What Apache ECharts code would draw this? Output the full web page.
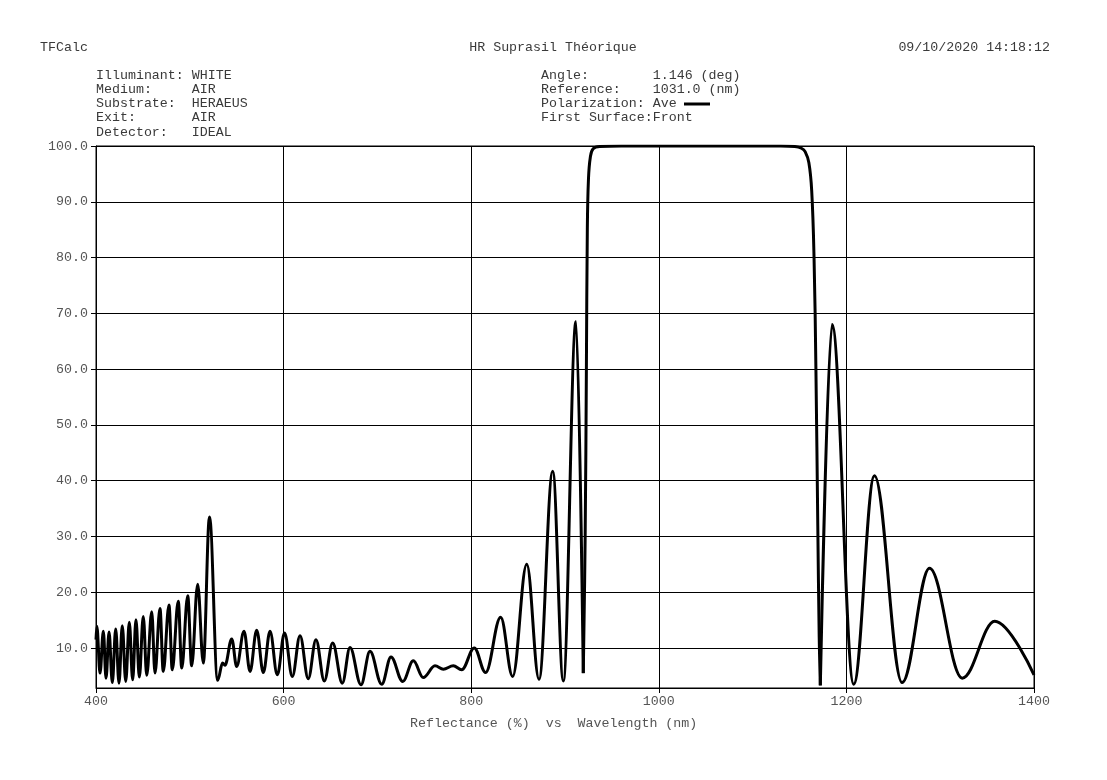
<!DOCTYPE html>
<html>
<head>
<meta charset="utf-8">
<script src="https://cdn.jsdelivr.net/npm/echarts@6/dist/echarts.min.js"></script>
<style>
html,body{margin:0;padding:0;background:#fff;}
#chart{width:1107px;height:780px;}
</style>
</head>
<body>
<div id="chart"></div>
<script>
// Wavelength (nm) and reflectance (%)
var wavelength = [400, 400.9, 404.3, 407.8, 410.7, 413.9, 417.4, 421.0, 424.5, 428.0, 431.7, 435.5, 439.1, 442.6, 446.2, 450.4, 454.1, 459.4, 462.9, 468.2, 471.7, 477.8, 481.3, 487.7, 491.4, 497.8, 502.0, 508.4, 514.4, 521.0, 529.7, 534.9, 537.5, 544.7, 550.0, 557.8, 564.2, 571.3, 578.4, 585.5, 593.3, 601.0, 609.3, 617.5, 626.3, 634.5, 643.4, 652.3, 662.6, 670.8, 682.5, 692.1, 704.6, 714.5, 727.0, 738.3, 748.9, 761.4, 770.3, 780.9, 789.9, 803.3, 815.3, 831.4, 844.2, 859.2, 872.3, 886.9, 898.2, 911.7, 919.5, 921.5, 922.8, 923.8, 925, 927, 930, 937, 960, 1050, 1130, 1145, 1152, 1156, 1160, 1163, 1165.5, 1167.5, 1169.5, 1171, 1172.2, 1184.7, 1207.8, 1229.9, 1259.4, 1288.6, 1323.5, 1358.2, 1400];
var reflectance = [11.5, 13.9, 5.5, 13.0, 4.6, 12.85, 3.8, 13.4, 3.7, 14.0, 4.0, 14.6, 4.3, 15.05, 4.8, 15.65, 5.1, 16.5, 5.5, 17.1, 5.8, 17.7, 6.1, 18.4, 6.4, 19.35, 6.8, 21.45, 7.3, 33.5, 4.2, 7.3, 6.9, 11.6, 6.7, 13.0, 5.8, 13.2, 5.6, 13.0, 5.2, 12.7, 4.9, 12.2, 4.5, 11.5, 4.1, 10.9, 3.7, 10.1, 3.4, 9.4, 3.5, 8.4, 4.0, 7.7, 4.7, 6.8, 6.2, 6.8, 6.1, 10.0, 5.6, 15.5, 4.9, 25.0, 4.4, 41.7, 4.1, 68.5, 5.5, 30, 60, 85, 94, 98, 99.5, 99.9, 100, 100, 100, 99.9, 99.6, 99.0, 97, 92, 80, 60, 32, 12, 3.3, 68.0, 3.5, 40.9, 3.8, 24.3, 4.6, 14.8, 5.2];

// stop band edges (wavelengths where the curve reaches the trough on either side of the plateau)
var bandStart = 919.5;
var bandEnd = 1172.2;

var xTicks = {min: 400, max: 1400, step: 200};
var yTicks = {min: 2.83, max: 100, step: 10};

var headerLeft = ["Illuminant: WHITE", "Medium:     AIR", "Substrate:  HERAEUS", "Exit:       AIR", "Detector:   IDEAL"];
var headerRight = ["Angle:        1.146 (deg)", "Reference:    1031.0 (nm)", "Polarization: Ave", "First Surface:Front"];
var titleText = "HR Suprasil Théorique";
var appText = "TFCalc";
var dateText = "09/10/2020 14:18:12";
var axisTitle = "Reflectance (%)  vs  Wavelength (nm)";

var FONT = '"Liberation Mono", "DejaVu Sans Mono", monospace';
var FS = 13.3;
var TXT = '#3a3a3a';
var LBL = '#555';

var all = wavelength.map(function (w, i) { return [w, reflectance[i]]; });
var partA = all.filter(function (p) { return p[0] <= bandStart; });
var partB = all.filter(function (p) { return p[0] >= bandStart && p[0] <= bandEnd; });
var partC = all.filter(function (p) { return p[0] >= bandEnd; });

function txt(x, y, s, align) {
  return {type: 'text', x: x, y: y, silent: true,
    style: {text: s, fontFamily: FONT, fontSize: FS, fill: TXT, align: align || 'left', verticalAlign: 'middle'}};
}
var graphics = [];
graphics.push(txt(40, 47, appText));
graphics.push(txt(553, 47, titleText, 'center'));
graphics.push(txt(1050, 47, dateText, 'right'));
headerLeft.forEach(function (s, i) { graphics.push(txt(96, 75 + i * 14.25, s)); });
headerRight.forEach(function (s, i) { graphics.push(txt(541, 75 + i * 14.25, s)); });
graphics.push({type: 'line', silent: true, shape: {x1: 684, y1: 104, x2: 710, y2: 104}, style: {stroke: '#000', lineWidth: 3}});
graphics.push({type: 'text', x: 410, y: 723, silent: true,
  style: {text: axisTitle, fontFamily: FONT, fontSize: FS, fill: LBL, align: 'left', verticalAlign: 'middle'}});

var lineStyle = {color: '#000', width: 3};
var chart = echarts.init(document.getElementById('chart'), null, {renderer: 'canvas'});
chart.setOption({
  animation: false,
  backgroundColor: '#fff',
  grid: {left: 96, right: 73, top: 146, bottom: 92, show: true, borderColor: '#000', borderWidth: 1},
  xAxis: {
    type: 'value', min: xTicks.min, max: xTicks.max, interval: xTicks.step,
    axisLine: {show: true, lineStyle: {color: '#000', width: 1}},
    axisTick: {show: true, length: 5, lineStyle: {color: '#000'}},
    axisLabel: {color: LBL, fontFamily: FONT, fontSize: FS, margin: 7, formatter: function (v) { return String(v); }},
    splitLine: {show: true, lineStyle: {color: '#000', width: 1}}
  },
  yAxis: {
    type: 'value', min: yTicks.min, max: yTicks.max, splitNumber: 10,
    minInterval: yTicks.step, maxInterval: yTicks.step,
    axisLine: {show: true, lineStyle: {color: '#000', width: 1}},
    axisTick: {show: true, length: 5, lineStyle: {color: '#000'}},
    axisLabel: {color: LBL, fontFamily: FONT, fontSize: FS, margin: 8, showMinLabel: false,
      formatter: function (v) { return Math.abs(v / 10 - Math.round(v / 10)) < 1e-6 ? v.toFixed(1) : ''; }},
    splitLine: {show: true, lineStyle: {color: '#000', width: 1}}
  },
  series: [
    {type: 'line', data: partA, showSymbol: false, smooth: 0.37, smoothMonotone: 'x', lineStyle: lineStyle},
    {type: 'line', data: partB, showSymbol: false, smooth: 0.4, lineStyle: lineStyle},
    {type: 'line', data: partC, showSymbol: false, smooth: 0.37, smoothMonotone: 'x', lineStyle: lineStyle}
  ],
  graphic: graphics
});
</script>
</body>
</html>
